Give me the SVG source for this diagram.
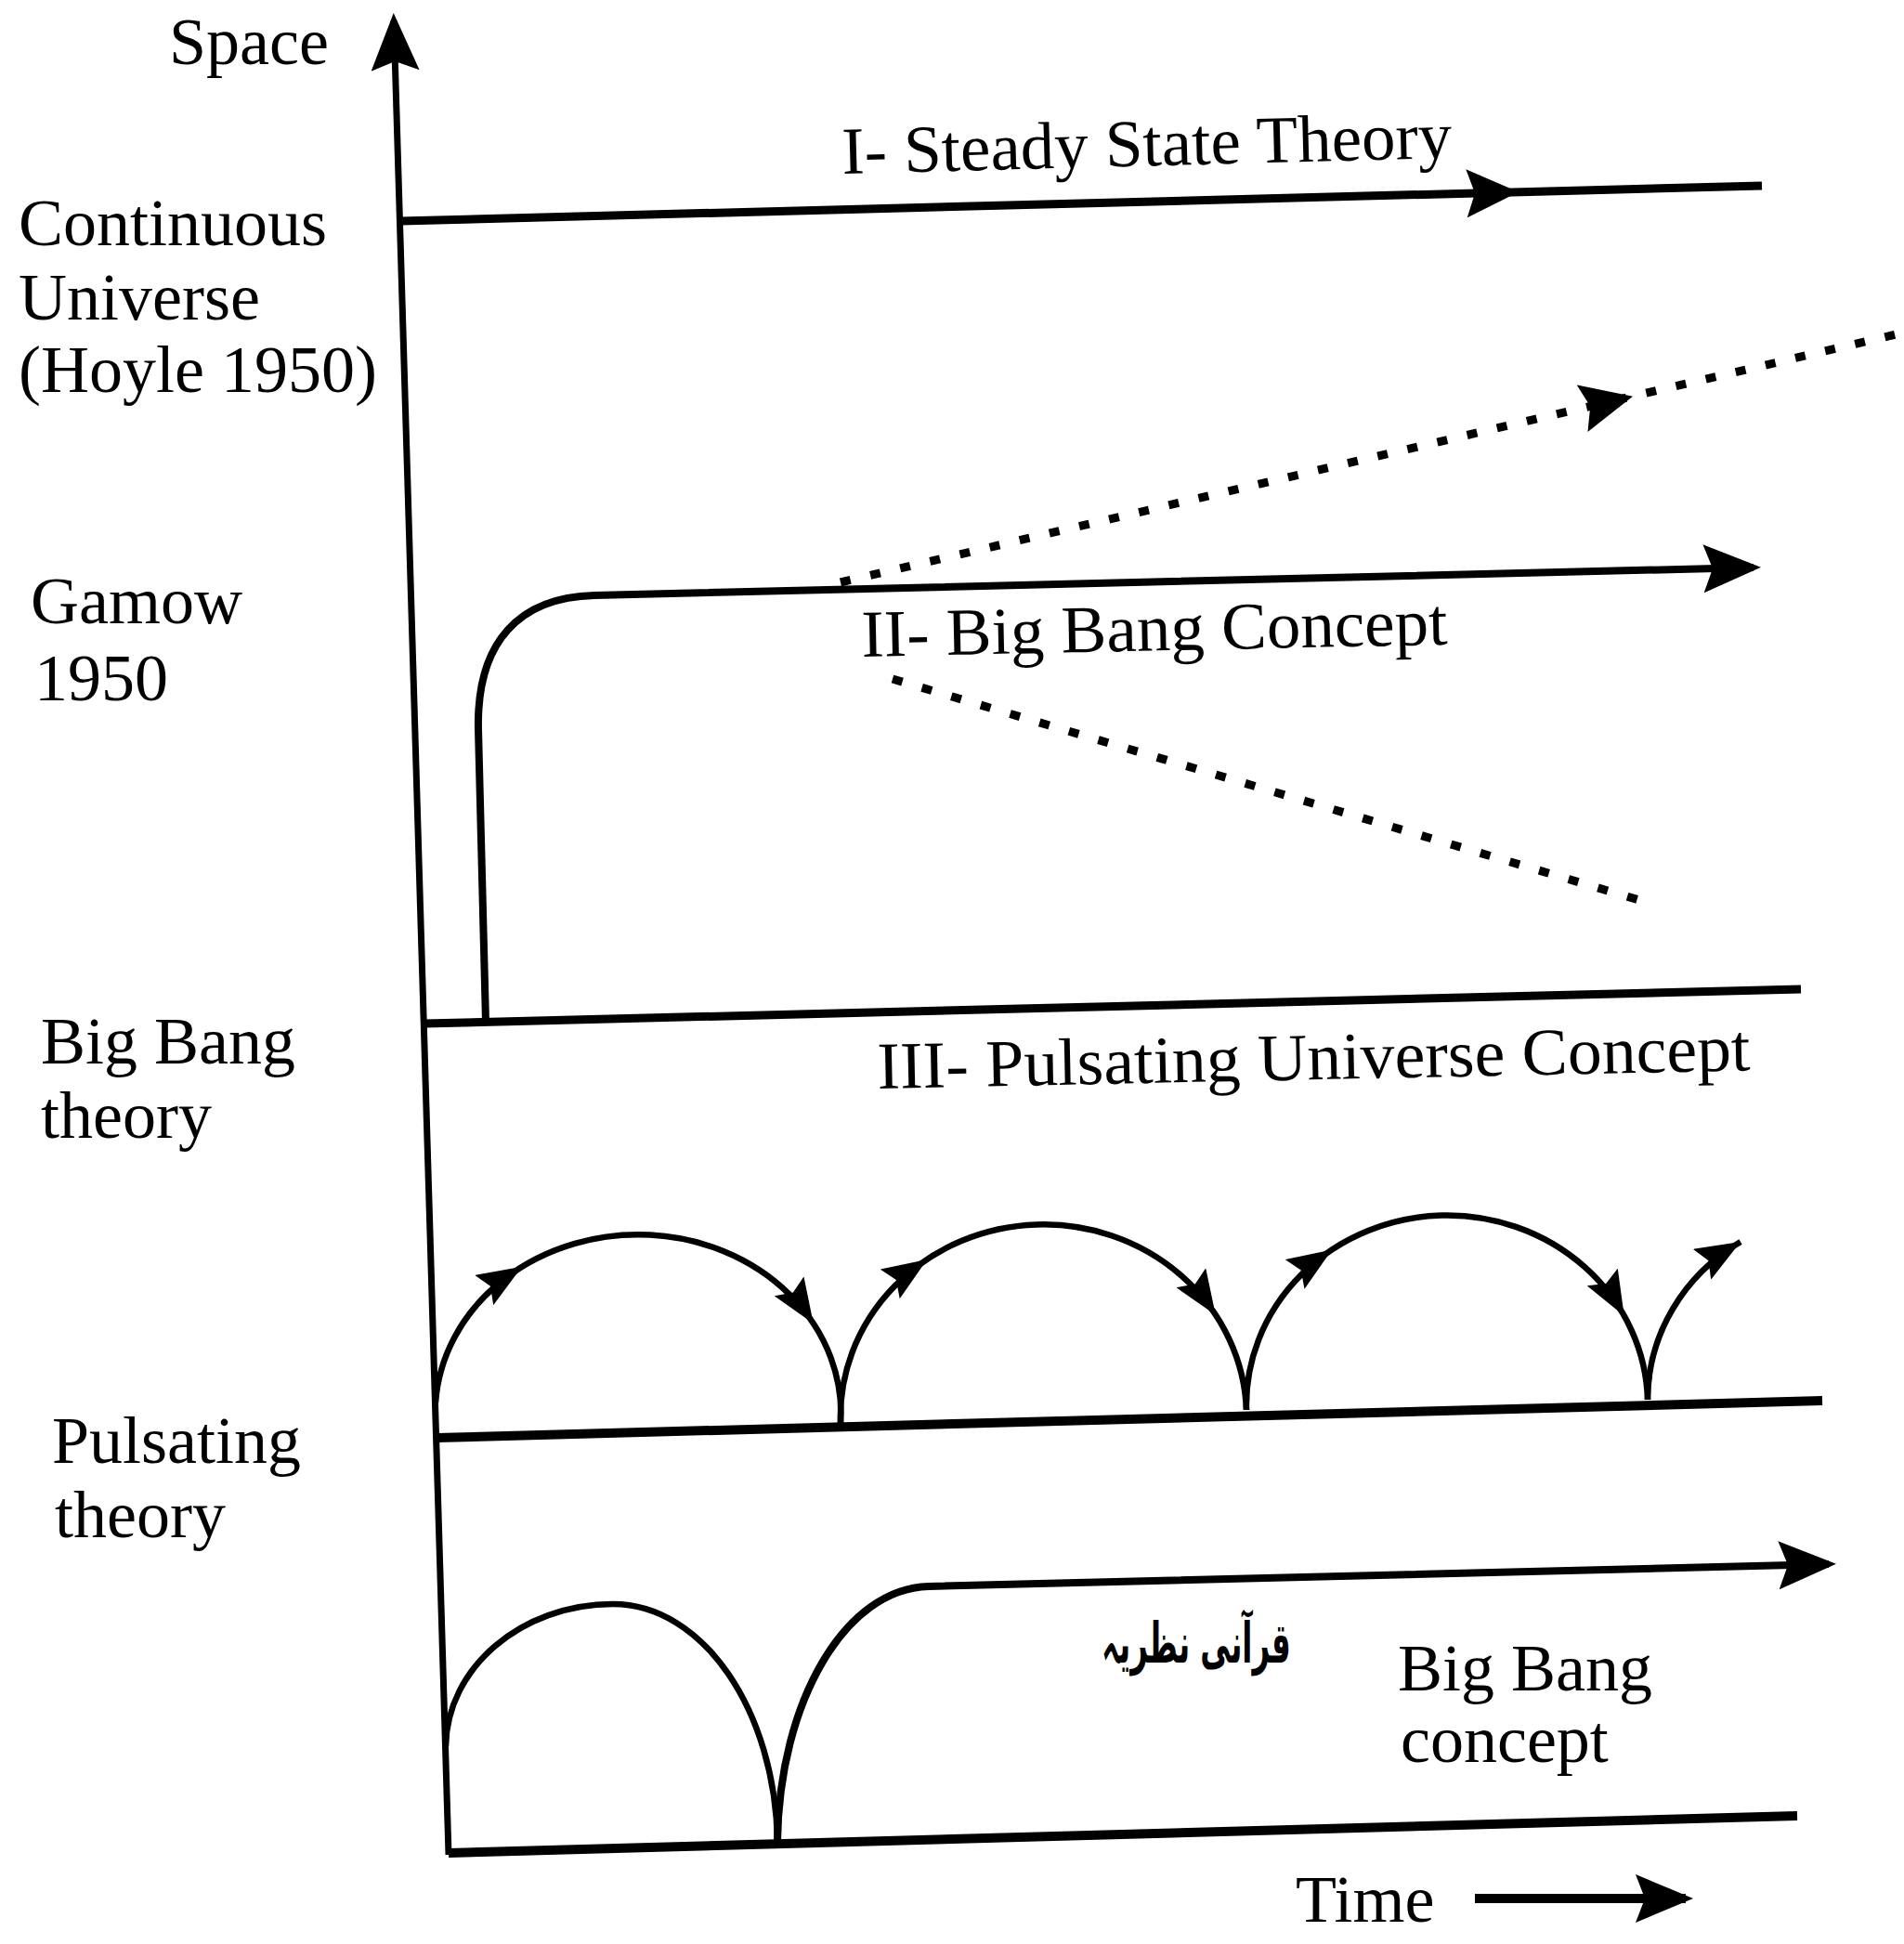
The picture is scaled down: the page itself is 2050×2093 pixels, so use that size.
<svg xmlns="http://www.w3.org/2000/svg" width="2050" height="2093" viewBox="0 0 2050 2093">
<style>
.t{font-family:"Liberation Serif","Times New Roman",serif;font-size:72px;fill:#000}
.u{font-family:"DejaVu Sans","Noto Sans",sans-serif;font-size:60px;font-weight:bold;fill:#000}
.ln{fill:none;stroke:#000;stroke-linecap:butt;stroke-linejoin:round}
.dash{fill:none;stroke:#000;stroke-width:9;stroke-dasharray:11 22}
.arc{fill:none;stroke:#000;stroke-width:6.5}
.tick{fill:none;stroke:none}
</style>
<defs>
<marker id="big" viewBox="0 0 62 52" refX="54" refY="26" markerWidth="62" markerHeight="52" orient="auto" markerUnits="userSpaceOnUse"><path d="M0,0 L62,26 L0,52 L10,26 z" fill="#000"/></marker>
<marker id="med" viewBox="0 0 56 52" refX="56" refY="26" markerWidth="56" markerHeight="52" orient="auto" markerUnits="userSpaceOnUse"><path d="M0,0 L56,26 L0,52 L9,26 z" fill="#000"/></marker>
<marker id="sm" viewBox="0 0 48 38" refX="48" refY="19" markerWidth="48" markerHeight="38" orient="auto" markerUnits="userSpaceOnUse"><path d="M0,0 L48,19 L0,38 L8,19 z" fill="#000"/></marker>
</defs>
<rect width="2050" height="2093" fill="#fff"/>

<g id="axis">
<path class="ln" stroke-width="7" d="M483,1997 L424,22" marker-end="url(#big)"/>
<path class="ln" stroke-width="10" d="M1588,2044 L1815,2044" marker-end="url(#big)"/>
</g>

<g id="connectors">
<g id="steady-state">
<path class="ln" stroke-width="9" d="M431,238 L1897,200"/>
<path class="tick" d="M1595,207.9 L1635,206.8" marker-end="url(#med)"/>
</g>
<g id="big-bang">
<path class="ln" stroke-width="9" d="M457,1102 L1939,1065"/>
<path class="ln" stroke-width="8" d="M523,1100 L515,785 C513,690 560,643 640,641 L1888,611" marker-end="url(#big)"/>
<path class="dash" d="M905,627 L2050,358"/>
<path class="tick" d="M1716,436.7 L1758,426.8" marker-end="url(#med)"/>
<path class="dash" d="M961,731 L1775,972"/>
</g>
<g id="pulsating">
<path class="ln" stroke-width="10" d="M470,1548 L1962,1508"/>
<path class="arc" d="M469,1510 A218 192 0 0 1 905,1533"/>
<path class="arc" d="M905,1533 A218.5 207 0 0 1 1342,1518"/>
<path class="arc" d="M1342,1518 A216 204 0 0 1 1774,1507"/>
<path class="arc" d="M1774,1507 A210 200 0 0 1 1874,1337" marker-end="url(#sm)"/>
<path class="tick" d="M536.5,1379.5 L562,1363.7" marker-end="url(#sm)"/>
<path class="tick" d="M859.4,1399.9 L875.8,1425" marker-end="url(#sm)"/>
<path class="tick" d="M973.2,1372.5 L998.2,1355.9" marker-end="url(#sm)"/>
<path class="tick" d="M1292.3,1390.8 L1308.8,1415.8" marker-end="url(#sm)"/>
<path class="tick" d="M1409.1,1361.9 L1434.1,1345.4" marker-end="url(#sm)"/>
<path class="tick" d="M1734,1390.6 L1748.7,1416.8" marker-end="url(#sm)"/>
</g>
<g id="quranic">
<path class="ln" stroke-width="10" d="M483,1995 L1935,1955"/>
<path class="arc" d="M480,1880 C481,1796 561,1727 660,1727 C757,1727 835,1842 837,1983"/>
<path class="ln" stroke-width="8" d="M837,1983 C839,1832 910,1710 1000,1708 L1969,1684" marker-end="url(#big)"/>
</g>
</g>

<g id="labels">
<text class="t" x="354" y="69" text-anchor="end">Space</text>
<text class="t" x="20" y="264">Continuous</text>
<text class="t" x="20" y="344">Universe</text>
<text class="t" x="20" y="422">(Hoyle 1950)</text>
<text class="t" x="33" y="671">Gamow</text>
<text class="t" x="37" y="754">1950</text>
<text class="t" x="44" y="1145">Big Bang</text>
<text class="t" x="44" y="1225">theory</text>
<text class="t" x="56" y="1575">Pulsating</text>
<text class="t" x="59" y="1655">theory</text>
<text class="t" x="907" y="187" textLength="657" lengthAdjust="spacingAndGlyphs" transform="rotate(-1.5 907 187)">I- Steady State Theory</text>
<text class="t" x="928" y="707" textLength="631" lengthAdjust="spacingAndGlyphs" transform="rotate(-1.2 928 707)">II- Big Bang Concept</text>
<text class="t" x="945" y="1172" textLength="940" lengthAdjust="spacingAndGlyphs" transform="rotate(-1.2 945 1172)">III- Pulsating Universe Concept</text>
<text class="u" x="0" y="0" text-anchor="middle" transform="translate(1288 1790) scale(0.54 1)">قرآنی نظریہ</text>
<text class="t" x="1505" y="1820">Big Bang</text>
<text class="t" x="1508" y="1897">concept</text>
<text class="t" x="1395" y="2069">Time</text>
</g>
</svg>
